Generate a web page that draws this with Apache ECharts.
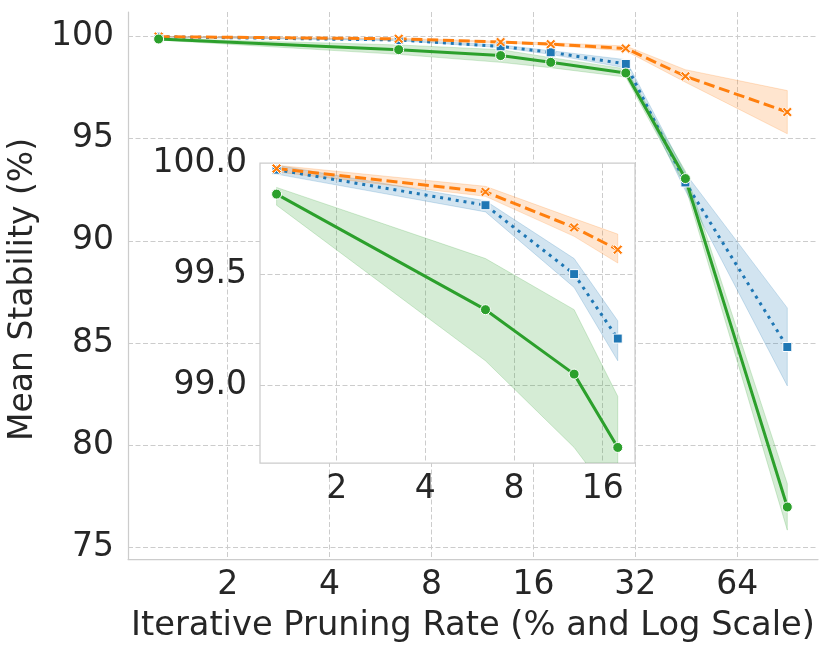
<!DOCTYPE html>
<html>
<head>
<meta charset="utf-8">
<script src="https://cdn.jsdelivr.net/npm/echarts@6/dist/echarts.min.js"></script>
<style>
  html, body { margin: 0; padding: 0; background: #fff; }
  #chart { width: 831px; height: 655px; }
</style>
</head>
<body>
<div id="chart"></div>
<script>
// pruning rates (x, log2 axis)
const rates = [1.25, 6.4, 12.8, 18, 30, 45, 90];
// the inset only shows the first points
const insetCount = 4;

// blue, dotted, squares
const blueMean = [99.97, 99.81, 99.50, 99.21, 98.64, 92.85, 84.81];
const blueLow = [99.95, 99.78, 99.44, 99.11, 98.45, 92.45, 82.91];
const blueHigh = [99.99, 99.83, 99.57, 99.29, 98.85, 93.30, 86.72];

// orange, dashed, x markers
const orangeMean = [99.975, 99.87, 99.71, 99.61, 99.40, 98.04, 96.29];
const orangeLow = [99.96, 99.85, 99.67, 99.55, 99.28, 97.75, 95.23];
const orangeHigh = [99.99, 99.895, 99.75, 99.68, 99.52, 98.36, 97.34];

// green, solid, circles
const greenMean = [99.86, 99.34, 99.05, 98.72, 98.20, 93.04, 76.99];
const greenLow = [99.81, 99.11, 98.72, 98.46, 98.00, 92.65, 75.86];
const greenHigh = [99.89, 99.57, 99.34, 98.95, 98.40, 93.40, 78.13];

const mainYTicks = [75, 80, 85, 90, 95, 100];
const insetYTicks = [99.0, 99.5, 100.0];

const FONT = 'DejaVu Sans';
const TEXT = '#262626';
const GRID = '#cccccc';
const X_MARK = 'path://M0,2L2,0L5,3L8,0L10,2L7,5L10,8L8,10L5,7L2,10L0,8L3,5Z';

const styles = [
  { name: 'blue', color: '#1f77b4', mean: blueMean, low: blueLow, high: blueHigh, type: [3, 4.9], symbol: 'rect', size: 9 },
  { name: 'orange', color: '#ff7f0e', mean: orangeMean, low: orangeLow, high: orangeHigh, type: [11, 4.8], symbol: X_MARK, size: 10 },
  { name: 'green', color: '#2ca02c', mean: greenMean, low: greenLow, high: greenHigh, type: 'solid', symbol: 'circle', size: 10 },
];

const hexA = (hex, a) => {
  const n = parseInt(hex.slice(1), 16);
  return `rgba(${n >> 16}, ${(n >> 8) & 255}, ${n & 255}, ${a})`;
};

const pairs = (vals, n) => rates.slice(0, n).map((x, i) => [x, vals[i]]);

// confidence band as one polygon: lower edge forward, upper edge back
const bandSeries = (s, idx, n, z) => ({
  type: 'custom', xAxisIndex: idx, yAxisIndex: idx, z, silent: true,
  data: [[rates[0], s.mean[0]]],
  renderItem: (params, api) => {
    const lowPts = pairs(s.low, n).map(p => api.coord(p));
    const highPts = pairs(s.high, n).map(p => api.coord(p)).reverse();
    const cs = params.coordSys;
    return {
      type: 'polygon',
      shape: { points: lowPts.concat(highPts) },
      style: { fill: hexA(s.color, 0.2), stroke: hexA(s.color, 0.2), lineWidth: 1 },
      clipPath: { type: 'rect', shape: { x: cs.x, y: cs.y, width: cs.width, height: cs.height } },
    };
  },
});

const buildSeries = (idx, n, zBase) => {
  const bands = styles.map(s => bandSeries(s, idx, n, zBase));
  const lines = styles.map(s => ({
    type: 'line', xAxisIndex: idx, yAxisIndex: idx, z: zBase + 1,
    data: pairs(s.mean, n),
    symbol: s.symbol, symbolSize: s.size, showSymbol: true,
    lineStyle: { color: s.color, width: 3, type: s.type },
    itemStyle: { color: s.color, borderColor: '#fff', borderWidth: 1 },
  }));
  return bands.concat(lines);
};

const textStyle = { fontSize: 33, color: TEXT, fontFamily: FONT };
const splitLine = {
  show: true, showMinLine: false, showMaxLine: false,
  lineStyle: { color: GRID, type: [5, 2.5], width: 1 },
};

const chart = echarts.init(document.getElementById('chart'));
chart.setOption({
  animation: false,
  backgroundColor: '#fff',
  textStyle: { fontFamily: FONT },
  grid: [
    { left: 128, top: 12, right: 13, bottom: 96, outerBoundsMode: 'none', containLabel: false },
    {
      left: 260, top: 163, width: 375, height: 300, z: 3, show: true,
      backgroundColor: '#fff', borderColor: GRID, borderWidth: 1.25,
      outerBoundsMode: 'none', containLabel: false,
    },
  ],
  xAxis: [
    {
      type: 'log', logBase: 2, gridIndex: 0, min: 1.015, max: 110.9,
      name: 'Iterative Pruning Rate (% and Log Scale)', nameLocation: 'middle', nameGap: 50,
      nameTextStyle: Object.assign({}, textStyle, { fontSize: 33.7 }),
      axisLine: { show: true, onZero: false, lineStyle: { color: GRID, width: 1.25 } },
      axisTick: { show: false },
      axisLabel: Object.assign({ margin: 10, showMinLabel: false, showMaxLabel: false }, textStyle),
      splitLine,
    },
    {
      type: 'log', logBase: 2, gridIndex: 1, min: 1.098, max: 20.6, z: 4,
      axisLine: { show: false, onZero: false },
      axisTick: { show: false },
      axisLabel: Object.assign({ margin: 10, showMinLabel: false, showMaxLabel: false }, textStyle),
      splitLine,
    },
  ],
  yAxis: [
    {
      type: 'value', gridIndex: 0, min: 74.45, max: 101.18, splitNumber: mainYTicks.length - 1,
      name: 'Mean Stability (%)', nameLocation: 'middle', nameGap: 71,
      nameTextStyle: Object.assign({}, textStyle, { padding: [0, 8, 0, 0] }),
      axisLine: { show: true, onZero: false, lineStyle: { color: GRID, width: 1.25 } },
      axisTick: { show: false },
      axisLabel: Object.assign({ margin: 14, showMinLabel: false, showMaxLabel: false }, textStyle),
      splitLine,
    },
    {
      type: 'value', gridIndex: 1, min: 98.65, max: 100.0, splitNumber: insetYTicks.length, z: 4,
      axisLine: { show: false, onZero: false },
      axisTick: { show: false },
      axisLabel: Object.assign({
        margin: 13, showMinLabel: false, showMaxLabel: true,
        formatter: v => v.toFixed(1),
      }, textStyle),
      splitLine,
    },
  ],
  series: buildSeries(0, rates.length, 1).concat(buildSeries(1, insetCount, 5)),
});
</script>
</body>
</html>
